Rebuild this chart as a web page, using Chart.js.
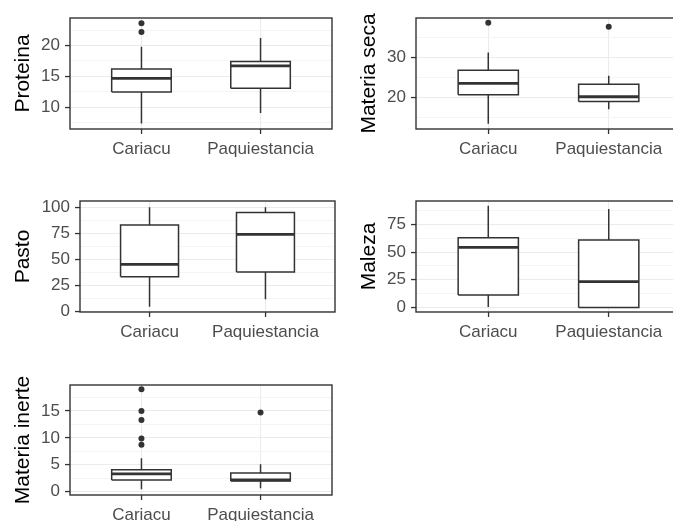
<!DOCTYPE html>
<html>
<head>
<meta charset="utf-8">
<script src="https://cdn.jsdelivr.net/npm/chart.js@4/dist/chart.umd.min.js"></script>
<style>
  html, body { margin: 0; padding: 0; background: #fff; overflow: hidden; width: 673px; height: 521px; }
  canvas { position: absolute; }
</style>
</head>
<body>
<canvas id="c1"></canvas>
<canvas id="c2"></canvas>
<canvas id="c3"></canvas>
<canvas id="c4"></canvas>
<canvas id="c5"></canvas>
<script>
const categories = ['Cariacu', 'Paquiestancia'];

// per category: [lower whisker, Q1, median, Q3, upper whisker]
const proteinaBox = [[7.4, 12.5, 14.7, 16.2, 19.8], [9.1, 13.1, 16.7, 17.4, 21.2]];
const proteinaOut = [[23.6, 22.2], []];
const proteinaTicks = [10, 15, 20];
const proteinaMinor = [7.5, 12.5, 17.5, 22.5];
const proteinaRange = [6.5, 24.45];

const secaBox = [[13.5, 20.7, 23.5, 26.8, 31.2], [17.1, 19.0, 20.2, 23.3, 25.4]];
const secaOut = [[38.6], [37.6]];
const secaTicks = [20, 30];
const secaMinor = [15, 25, 35];
const secaRange = [12.2, 39.75];

const pastoBox = [[4.8, 33.5, 45.4, 83, 100], [11.9, 38, 74, 95.1, 100]];
const pastoOut = [[], []];
const pastoTicks = [0, 25, 50, 75, 100];
const pastoMinor = [12.5, 37.5, 62.5, 87.5];
const pastoRange = [-0.3, 106];

const malezaBox = [[0.5, 11.4, 54.3, 63, 91.7], [0, 0, 23.4, 60.9, 88.8]];
const malezaOut = [[], []];
const malezaTicks = [0, 25, 50, 75];
const malezaMinor = [12.5, 37.5, 62.5, 87.5];
const malezaRange = [-4, 96];

const inerteBox = [[0.45, 2.2, 3.3, 4.1, 6.2], [0.65, 2.0, 2.2, 3.5, 5.1]];
const inerteOut = [[19.0, 15.0, 13.3, 9.9, 8.7], [14.7]];
const inerteTicks = [0, 5, 10, 15];
const inerteMinor = [2.5, 7.5, 12.5, 17.5];
const inerteRange = [-0.6, 19.8];

const FONT = "'Liberation Sans', Arial, sans-serif";
const INK = '#333333';
const HALF = 0.25;

const framePlugin = {
  id: 'frame',
  afterDraw(chart) {
    const { ctx, chartArea: a } = chart;
    ctx.save();
    ctx.strokeStyle = INK;
    ctx.lineWidth = 1.4;
    ctx.strokeRect(a.left, a.top, a.right - a.left, a.bottom - a.top);
    ctx.restore();
  }
};

function boxDatasets(box, out) {
  const sets = [];
  box.forEach((b, i) => {
    const x = i + 1;
    const [lo, q1, med, q3, hi] = b;
    sets.push({
      data: [{ x: x - HALF, y: med }, { x: x + HALF, y: med }],
      showLine: true, borderColor: INK, borderWidth: 2.8, pointRadius: 0, order: 0
    });
    sets.push({
      data: out[i].map(v => ({ x, y: v })),
      pointRadius: 3, pointBackgroundColor: INK, pointBorderWidth: 0, order: 1
    });
    sets.push({
      data: [{ x: x - HALF, y: q1 }, { x: x + HALF, y: q1 }, { x: x + HALF, y: q3 },
             { x: x - HALF, y: q3 }, { x: x - HALF, y: q1 }],
      showLine: true, fill: 'shape', backgroundColor: '#ffffff',
      borderColor: INK, borderWidth: 1.5, pointRadius: 0, order: 2
    });
    sets.push({
      data: [{ x, y: q3 }, { x, y: hi }, { x, y: null }, { x, y: q1 }, { x, y: lo }],
      showLine: true, spanGaps: false, borderColor: INK, borderWidth: 1.5, pointRadius: 0, order: 3
    });
  });
  return sets;
}

function makePanel(p) {
  const el = document.getElementById(p.id);
  el.width = p.width;
  el.height = p.height;
  el.style.left = p.left + 'px';
  el.style.top = p.top + 'px';
  const majors = p.ticks;
  const all = [...p.ticks, ...p.minor].sort((a, b) => a - b);
  new Chart(el, {
    type: 'scatter',
    data: { datasets: boxDatasets(p.box, p.out) },
    options: {
      responsive: false,
      animation: false,
      events: [],
      layout: { padding: { left: 0, top: p.padTop, right: p.padRight, bottom: 0 } },
      plugins: { legend: { display: false }, tooltip: { enabled: false } },
      scales: {
        x: {
          type: 'linear', min: 0.4, max: 2.6, bounds: 'data',
          afterBuildTicks: s => { s.ticks = categories.map((c, i) => ({ value: i + 1 })); },
          afterFit: s => { s.height = p.xHeight; },
          ticks: {
            callback: v => categories[Math.round(v) - 1] || '',
            color: '#4D4D4D', font: { family: FONT, size: 17 }, padding: 5,
            autoSkip: false, maxRotation: 0
          },
          grid: { color: '#EBEBEB', lineWidth: 1.1, tickLength: 5, tickColor: INK, tickWidth: 1.3 },
          border: { display: false }
        },
        y: {
          type: 'linear', min: p.range[0], max: p.range[1], bounds: 'data',
          afterBuildTicks: s => { s.ticks = all.map(v => ({ value: v })); },
          afterFit: s => { s.width = p.yWidth; },
          ticks: {
            callback: v => majors.includes(v) ? String(v) : '',
            color: '#4D4D4D', font: { family: FONT, size: 17 }, padding: 5, autoSkip: false
          },
          grid: {
            color: c => majors.includes(c.tick.value) ? '#EBEBEB' : '#F4F4F4',
            lineWidth: c => majors.includes(c.tick.value) ? 1.1 : 1,
            tickLength: 5,
            tickColor: c => majors.includes(c.tick.value) ? INK : 'rgba(0,0,0,0)',
            tickWidth: 1.3
          },
          border: { display: false },
          title: {
            display: true, text: p.title, color: '#000000',
            font: { family: FONT, size: 21 }, padding: { top: 11, bottom: 0 }
          }
        }
      }
    },
    plugins: [framePlugin]
  });
}

makePanel({ id: 'c1', left: 0, top: 0, width: 336, height: 165, yWidth: 70, padTop: 18, padRight: 1, xHeight: 36,
  title: 'Proteina', box: proteinaBox, out: proteinaOut, ticks: proteinaTicks, minor: proteinaMinor, range: proteinaRange });
makePanel({ id: 'c2', left: 346, top: 0, width: 345, height: 165, yWidth: 70, padTop: 18, padRight: 10, xHeight: 36,
  title: 'Materia seca', box: secaBox, out: secaOut, ticks: secaTicks, minor: secaMinor, range: secaRange });
makePanel({ id: 'c3', left: 0, top: 183, width: 336, height: 165, yWidth: 80, padTop: 18, padRight: 1, xHeight: 36,
  title: 'Pasto', box: pastoBox, out: pastoOut, ticks: pastoTicks, minor: pastoMinor, range: pastoRange });
makePanel({ id: 'c4', left: 346, top: 183, width: 345, height: 165, yWidth: 70, padTop: 18, padRight: 10, xHeight: 36,
  title: 'Maleza', box: malezaBox, out: malezaOut, ticks: malezaTicks, minor: malezaMinor, range: malezaRange });
makePanel({ id: 'c5', left: 0, top: 367, width: 336, height: 165, yWidth: 70, padTop: 18, padRight: 1, xHeight: 37,
  title: 'Materia inerte', box: inerteBox, out: inerteOut, ticks: inerteTicks, minor: inerteMinor, range: inerteRange });
</script>
</body>
</html>
